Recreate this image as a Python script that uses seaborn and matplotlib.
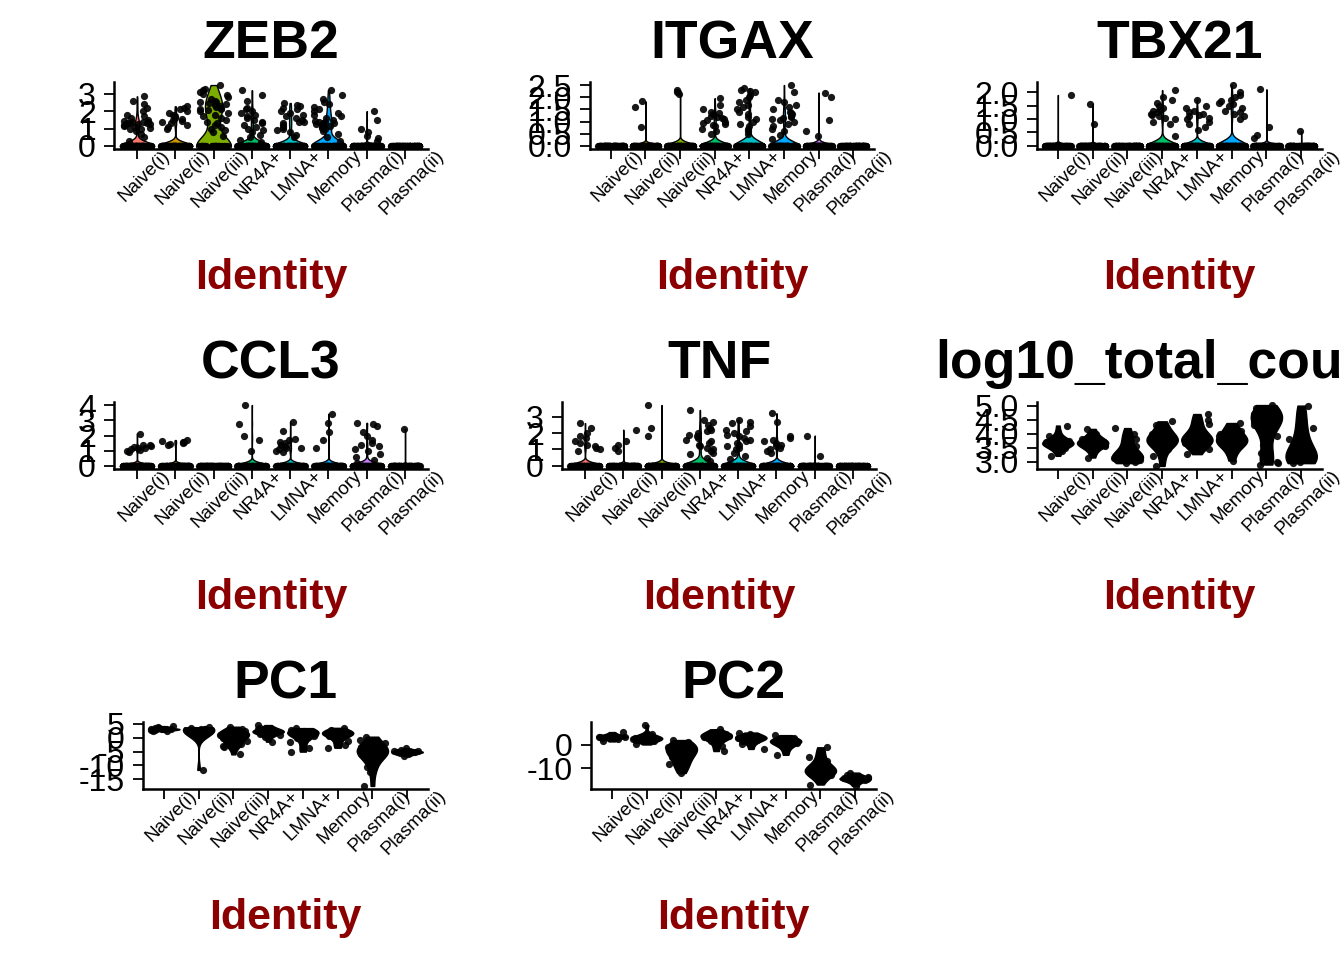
import numpy as np
import pandas as pd
import matplotlib
matplotlib.use("Agg")
import matplotlib.pyplot as plt
import matplotlib.transforms as mtransforms
import seaborn as sns

#################
## Chart data  ##
#################

clusters = ["Naive(i)", "Naive(ii)", "Naive(iii)", "NR4A+",
            "LMNA+", "Memory", "Plasma(i)", "Plasma(ii)"]
cluster_colors = ["#F8766D", "#CD9600", "#7CAE00", "#00BE67",
                  "#00BFC4", "#00A9FF", "#C77CFF", "#FF61CC"]

# genes: number of cells at zero per cluster + the expressed values
zeb2_zeros = [120, 120, 35, 110, 110, 70, 120, 120]
zeb2_expr = [
    [0.3, 0.5, 0.7, 0.85, 0.95, 1.0, 1.05, 1.1, 1.15, 1.2, 1.22, 1.25, 1.28, 1.3, 1.3, 1.32,
     1.35, 1.38, 1.4, 1.45, 1.5, 1.6, 1.7, 1.8, 2.0, 2.2, 2.4, 2.6, 2.85],
    [1.0, 1.1, 1.2, 1.3, 1.4, 1.45, 1.5, 1.55, 1.6, 1.7, 1.8, 1.9, 2.0, 2.1, 2.2, 2.28],
    [0.55, 0.8, 0.9, 1.0, 1.1, 1.2, 1.3, 1.4, 1.5, 1.6, 1.7, 1.8, 1.9, 2.0, 2.05, 2.1, 2.15,
     2.2, 2.25, 2.3, 2.35, 2.4, 2.45, 2.5, 2.55, 2.6, 2.7, 2.8, 2.9, 3.0, 3.1, 3.2, 3.3, 3.5],
    [0.2, 0.35, 0.5, 0.65, 0.8, 0.9, 1.0, 1.1, 1.2, 1.3, 1.4, 1.5, 1.6, 1.7, 1.8, 1.9, 2.0,
     2.1, 2.2, 2.6, 2.9, 3.2],
    [0.5, 0.65, 0.8, 0.9, 1.0, 1.1, 1.2, 1.3, 1.35, 1.4, 1.5, 1.6, 1.7, 1.8, 1.9, 2.0, 2.1,
     2.2, 2.3, 2.35, 2.47],
    [0.3, 0.5, 0.7, 0.85, 1.0, 1.05, 1.1, 1.15, 1.2, 1.25, 1.3, 1.3, 1.35, 1.4, 1.45, 1.5,
     1.6, 1.7, 1.8, 1.9, 2.0, 2.1, 2.25, 2.4, 2.55, 2.7, 2.95, 3.2],
    [0.3, 0.45, 0.6, 0.8, 1.0, 1.5, 2.0],
    [],
]

itgax_zeros = [120, 120, 120, 120, 120, 120, 120, 120]
itgax_expr = [
    [],
    [0.78, 1.61, 1.83],
    [2.15, 2.22, 2.28],
    [0.5, 0.6, 0.7, 0.8, 0.85, 0.9, 0.95, 1.0, 1.05, 1.1, 1.15, 1.2, 1.25, 1.3, 1.35, 1.4,
     1.5, 1.7, 1.96],
    [0.5, 0.6, 0.7, 0.8, 0.9, 1.0, 1.1, 1.2, 1.3, 1.4, 1.5, 1.6, 1.7, 1.8, 1.9, 2.0, 2.1,
     2.2, 2.25, 2.3, 2.37],
    [0.3, 0.45, 0.6, 0.7, 0.8, 0.9, 1.0, 1.05, 1.1, 1.15, 1.2, 1.25, 1.3, 1.35, 1.4, 1.5,
     1.6, 1.7, 1.8, 1.9, 2.2, 2.5],
    [0.4, 0.6, 1.05, 2.0, 2.19],
    [],
]

tbx21_zeros = [120, 120, 120, 120, 120, 120, 120, 120]
tbx21_expr = [
    [1.89],
    [0.83, 1.56],
    [],
    [0.37, 0.8, 0.9, 1.0, 1.05, 1.1, 1.15, 1.2, 1.25, 1.3, 1.35, 1.4, 1.5, 1.6, 1.7, 1.8, 2.07],
    [0.6, 0.7, 0.8, 0.9, 1.0, 1.05, 1.1, 1.15, 1.2, 1.25, 1.3, 1.4, 1.5, 1.7],
    [1.0, 1.1, 1.2, 1.25, 1.3, 1.4, 1.5, 1.55, 1.6, 1.65, 1.7, 1.8, 1.9, 2.0, 2.26],
    [0.3, 0.4, 0.7, 2.1],
    [0.55],
]

ccl3_zeros = [120, 120, 120, 120, 120, 120, 120, 120]
ccl3_expr = [
    [0.9, 1.0, 1.05, 1.1, 1.15, 1.2, 1.25, 1.3, 1.35, 1.4, 2.13],
    [1.4, 1.45, 1.5, 1.55, 1.6, 1.65, 1.7],
    [],
    [1.0, 1.7, 2.0, 2.78, 4.0],
    [0.9, 1.0, 1.1, 1.15, 1.2, 1.3, 1.4, 1.5, 1.6, 1.7, 1.8, 2.3, 2.9],
    [1.2, 1.7, 2.2, 2.8, 3.43],
    [0.2, 0.4, 0.6, 0.8, 1.0, 1.1, 1.3, 1.4, 1.5, 1.7, 2.0, 2.2, 2.6, 2.75, 2.83],
    [2.43],
]

tnf_zeros = [120, 120, 120, 120, 120, 120, 120, 120]
tnf_expr = [
    [0.9, 1.0, 1.1, 1.2, 1.3, 1.4, 1.5, 1.7, 1.8, 2.0, 2.3, 2.6],
    [0.9, 1.1, 1.3, 1.5, 2.2],
    [1.8, 2.3, 3.7],
    [0.3, 0.5, 0.7, 0.8, 0.9, 1.0, 1.1, 1.2, 1.3, 1.4, 1.5, 1.6, 1.7, 1.8, 1.9, 2.0, 2.1,
     2.2, 2.3, 2.5, 2.7, 2.8, 3.4],
    [0.4, 0.6, 0.8, 1.0, 1.1, 1.2, 1.3, 1.4, 1.5, 1.6, 1.7, 1.8, 1.9, 2.0, 2.1, 2.2, 2.4,
     2.6, 2.7, 2.8],
    [0.8, 0.9, 1.0, 1.1, 1.2, 1.3, 1.4, 1.5, 1.6, 1.7, 1.8, 2.7, 3.2],
    [0.6, 1.84],
    [],
]

# continuous per-cell values
log10_counts = [
    [3.21, 3.4, 3.5, 3.55, 3.6, 3.62, 3.64, 3.65, 3.66, 3.68, 3.7, 3.72, 3.75, 3.8, 3.9, 4.05, 4.29],
    [3.15, 3.35, 3.5, 3.55, 3.6, 3.63, 3.65, 3.67, 3.7, 3.72, 3.75, 3.8, 3.9, 4.0, 4.17],
    [2.95, 3.0, 3.05, 3.1, 3.12, 3.15, 3.17, 3.2, 3.25, 3.3, 3.4, 3.55, 3.77, 3.8, 4.0, 4.2],
    [2.85, 3.2, 3.45, 3.6, 3.68, 3.72, 3.74, 3.76, 3.8, 3.85, 3.9, 4.0, 4.15, 4.3, 4.44],
    [3.27, 3.45, 3.6, 3.68, 3.72, 3.75, 3.78, 3.8, 3.85, 3.9, 4.0, 4.15, 4.35, 4.5, 4.7],
    [3.04, 3.3, 3.5, 3.6, 3.68, 3.72, 3.75, 3.78, 3.82, 3.9, 4.0, 4.1, 4.25, 4.38],
    [2.9, 2.95, 3.0, 3.1, 3.3, 3.6, 3.9, 4.15, 4.3, 4.4, 4.45, 4.5, 4.55, 4.6, 4.62,
     4.65, 4.7, 4.75, 4.8, 4.9, 5.02],
    [2.95, 3.0, 3.05, 3.08, 3.1, 3.12, 3.15, 3.2, 3.3, 3.45, 3.6, 3.8, 4.0, 4.2, 4.5, 4.8, 5.0],
]

pc1_values = [
    [2.3, 2.6, 2.8, 2.9, 3.0, 3.05, 3.1, 3.15, 3.2, 3.3, 3.4, 3.6, 3.9, 4.2],
    [-11.6, 1.5, 2.0, 2.4, 2.6, 2.7, 2.8, 2.85, 2.9, 3.0, 3.1, 3.3, 3.5, 3.8],
    [-6.0, -3.5, -2.8, -2.3, -1.8, -1.2, -0.6, 0.0, 0.4, 0.8, 1.0, 1.2, 1.4, 1.6, 1.8, 2.1,
     2.5, 3.0, 4.0],
    [-1.4, 0.3, 1.0, 1.5, 1.8, 2.0, 2.2, 2.3, 2.4, 2.6, 2.8, 3.1, 3.6, 4.6],
    [-5.0, -3.8, -1.5, 0.0, 0.8, 1.3, 1.6, 1.8, 1.9, 2.0, 2.2, 2.5, 2.9, 3.5],
    [-3.6, -2.5, -1.0, 0.2, 0.8, 1.2, 1.4, 1.6, 1.7, 1.9, 2.1, 2.4, 2.9, 3.6],
    [-17.4, -12.2, -10.4, -8.0, -6.5, -5.8, -5.4, -5.1, -5.0, -4.8, -4.5, -4.0, -3.2, -2.0,
     -0.8, 0.4],
    [-6.6, -6.0, -5.6, -5.4, -5.3, -5.2, -5.1, -5.0, -4.9, -4.7, -4.4, -3.8],
]

pc2_values = [
    [1.5, 2.5, 3.0, 3.2, 3.4, 3.5, 3.6, 3.8, 4.0, 4.4, 5.5],
    [0.2, 1.5, 2.2, 2.5, 2.7, 2.8, 2.9, 3.0, 3.2, 3.6, 4.5, 8.5],
    [-12.0, -10.5, -9.0, -8.0, -7.0, -6.0, -5.0, -4.2, -3.5, -3.0, -2.5, -2.0, -1.5, -1.0,
     -0.5, 0.0, 0.6, 1.2, 2.1],
    [-2.6, -0.5, 1.5, 2.5, 3.0, 3.4, 3.7, 3.9, 4.1, 4.4, 4.8, 5.5, 6.7],
    [-1.7, 0.3, 1.5, 2.2, 2.6, 2.8, 3.0, 3.2, 3.5, 3.9, 4.5, 5.3],
    [-4.2, -2.0, -0.5, 0.5, 1.0, 1.3, 1.5, 1.7, 2.0, 2.4, 3.0, 4.2],
    [-16.9, -14.0, -13.0, -12.2, -11.6, -11.3, -11.1, -10.9, -10.6, -10.2, -9.5, -8.5, -7.0,
     -5.0, -3.0, -1.0],
    [-17.5, -16.0, -15.2, -14.8, -14.6, -14.4, -14.2, -14.0, -13.6, -13.0, -11.8],
]

# y axis breaks per panel
zeb2_ticks = [0, 1, 2, 3]
itgax_ticks = [0.0, 0.5, 1.0, 1.5, 2.0, 2.5]
tbx21_ticks = [0.0, 0.5, 1.0, 1.5, 2.0]
ccl3_ticks = [0, 1, 2, 3, 4]
tnf_ticks = [0, 1, 2, 3]
log10_ticks = [3.0, 3.5, 4.0, 4.5, 5.0]
pc1_ticks = [-15, -10, -5, 0, 5]
pc2_ticks = [-10, 0]


def gene_frame(zero_counts, expressed):
    rows = []
    for cluster, n_zero, vals in zip(clusters, zero_counts, expressed):
        rows += [(cluster, 0.0)] * n_zero
        rows += [(cluster, v) for v in vals]
    return pd.DataFrame(rows, columns=["ident", "value"])


def cont_frame(values):
    rows = []
    for cluster, vals in zip(clusters, values):
        rows += [(cluster, v) for v in vals]
    return pd.DataFrame(rows, columns=["ident", "value"])


sns.set_style("ticks")
plt.rcParams["font.family"] = ["Liberation Sans", "DejaVu Sans"]

FIG_W, FIG_H = 1344, 960
fig = plt.figure(figsize=(FIG_W / 100, FIG_H / 100), dpi=100)

black_palette = ["black"] * len(clusters)

# title, data, ticks, tick format, (left px, right px), row, palette
panels = [
    ("ZEB2", gene_frame(zeb2_zeros, zeb2_expr), zeb2_ticks, "{:.0f}", (114, 428), 0, cluster_colors),
    ("ITGAX", gene_frame(itgax_zeros, itgax_expr), itgax_ticks, "{:.1f}", (590, 874), 0, cluster_colors),
    ("TBX21", gene_frame(tbx21_zeros, tbx21_expr), tbx21_ticks, "{:.1f}", (1037, 1322), 0, cluster_colors),
    ("CCL3", gene_frame(ccl3_zeros, ccl3_expr), ccl3_ticks, "{:.0f}", (114, 428), 1, cluster_colors),
    ("TNF", gene_frame(tnf_zeros, tnf_expr), tnf_ticks, "{:.0f}", (562, 876), 1, cluster_colors),
    ("log10_total_counts", cont_frame(log10_counts), log10_ticks, "{:.1f}", (1037, 1322), 1, black_palette),
    ("PC1", cont_frame(pc1_values), pc1_ticks, "{:.0f}", (143, 428), 2, black_palette),
    ("PC2", cont_frame(pc2_values), pc2_ticks, "{:.0f}", (591, 876), 2, black_palette),
]

np.random.seed(3)  # only fixes the jitter of the points

for title, df, ticks, fmt, (left, right), row, palette in panels:
    top = 82 + 320 * row
    bottom = 149 + 320 * row
    ax = fig.add_axes([left / FIG_W, 1 - bottom / FIG_H,
                       (right - left) / FIG_W, (bottom - top) / FIG_H])

    sns.violinplot(data=df, x="ident", y="value", hue="ident",
                   order=clusters, hue_order=clusters, palette=palette,
                   density_norm="width", cut=0, inner=None, width=0.9,
                   linewidth=1.0, linecolor="black", saturation=1,
                   legend=False, ax=ax)
    sns.stripplot(data=df, x="ident", y="value", order=clusters,
                  color="black", size=5.2, jitter=0.38, alpha=0.9,
                  linewidth=0, ax=ax)

    lo, hi = df["value"].min(), df["value"].max()
    span = hi - lo
    ax.set_ylim(lo - 0.05 * span, hi + 0.05 * span)
    ax.set_xlim(-0.6, len(clusters) - 0.4)
    ax.set_yticks(ticks)
    ax.set_yticklabels([fmt.format(t) for t in ticks], fontsize=23)
    ax.set_xticks(range(len(clusters)))
    ax.set_xticklabels(clusters, rotation=45, ha="center", fontsize=13.5)
    ax.set_xlabel("")
    ax.set_ylabel("")
    sns.despine(ax=ax)
    for side in ["left", "bottom"]:
        ax.spines[side].set_linewidth(1.8)
        ax.spines[side].set_color("black")
    ax.tick_params(axis="both", length=7, width=1.3, color="black",
                   labelcolor="black")
    ax.tick_params(axis="y", pad=6)
    ax.tick_params(axis="x", pad=2)

    shift = mtransforms.ScaledTranslation(0.07, 0.14, fig.dpi_scale_trans)
    for lab in ax.get_xticklabels():
        lab.set_transform(lab.get_transform() + shift)

    ax.set_title(title, fontsize=38.5, fontweight="bold", color="black", pad=17)
    fig.text((left + right) / 2 / FIG_W, 1 - (289 + 320 * row) / FIG_H, "Identity",
             ha="center", va="baseline", fontsize=31, fontweight="bold",
             color="#8B0000")

fig.savefig("out.png", dpi=100)
